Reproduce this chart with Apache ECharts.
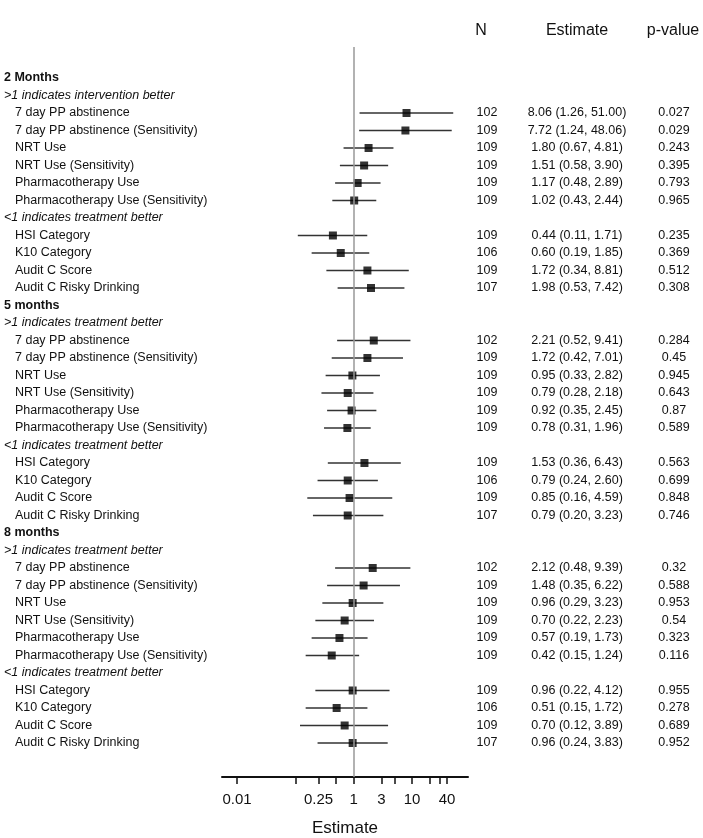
<!DOCTYPE html>
<html>
<head>
<meta charset="utf-8">
<script src="https://cdn.jsdelivr.net/npm/echarts@6/dist/echarts.min.js"></script>
<style>
html,body{margin:0;padding:0;background:#fff;}
#chart{width:703px;height:838px;}
</style>
</head>
<body>
<div id="chart"></div>
<script>
// ---- data ----
const rowLabels = [
  "2 Months", ">1 indicates intervention better",
  "7 day PP abstinence", "7 day PP abstinence (Sensitivity)", "NRT Use", "NRT Use (Sensitivity)",
  "Pharmacotherapy Use", "Pharmacotherapy Use (Sensitivity)",
  "<1 indicates treatment better",
  "HSI Category", "K10 Category", "Audit C Score", "Audit C Risky Drinking",
  "5 months", ">1 indicates treatment better",
  "7 day PP abstinence", "7 day PP abstinence (Sensitivity)", "NRT Use", "NRT Use (Sensitivity)",
  "Pharmacotherapy Use", "Pharmacotherapy Use (Sensitivity)",
  "<1 indicates treatment better",
  "HSI Category", "K10 Category", "Audit C Score", "Audit C Risky Drinking",
  "8 months", ">1 indicates treatment better",
  "7 day PP abstinence", "7 day PP abstinence (Sensitivity)", "NRT Use", "NRT Use (Sensitivity)",
  "Pharmacotherapy Use", "Pharmacotherapy Use (Sensitivity)",
  "<1 indicates treatment better",
  "HSI Category", "K10 Category", "Audit C Score", "Audit C Risky Drinking"
];
const nValues = [
  null, null, 102, 109, 109, 109, 109, 109, null, 109, 106, 109, 107,
  null, null, 102, 109, 109, 109, 109, 109, null, 109, 106, 109, 107,
  null, null, 102, 109, 109, 109, 109, 109, null, 109, 106, 109, 107
];
const estimates = [
  null, null, 8.06, 7.72, 1.80, 1.51, 1.17, 1.02, null, 0.44, 0.60, 1.72, 1.98,
  null, null, 2.21, 1.72, 0.95, 0.79, 0.92, 0.78, null, 1.53, 0.79, 0.85, 0.79,
  null, null, 2.12, 1.48, 0.96, 0.70, 0.57, 0.42, null, 0.96, 0.51, 0.70, 0.96
];
const lowerCI = [
  null, null, 1.26, 1.24, 0.67, 0.58, 0.48, 0.43, null, 0.11, 0.19, 0.34, 0.53,
  null, null, 0.52, 0.42, 0.33, 0.28, 0.35, 0.31, null, 0.36, 0.24, 0.16, 0.20,
  null, null, 0.48, 0.35, 0.29, 0.22, 0.19, 0.15, null, 0.22, 0.15, 0.12, 0.24
];
const upperCI = [
  null, null, 51.00, 48.06, 4.81, 3.90, 2.89, 2.44, null, 1.71, 1.85, 8.81, 7.42,
  null, null, 9.41, 7.01, 2.82, 2.18, 2.45, 1.96, null, 6.43, 2.60, 4.59, 3.23,
  null, null, 9.39, 6.22, 3.23, 2.23, 1.73, 1.24, null, 4.12, 1.72, 3.89, 3.83
];
const pValues = [
  null, null, "0.027", "0.029", "0.243", "0.395", "0.793", "0.965", null, "0.235", "0.369", "0.512", "0.308",
  null, null, "0.284", "0.45", "0.945", "0.643", "0.87", "0.589", null, "0.563", "0.699", "0.848", "0.746",
  null, null, "0.32", "0.588", "0.953", "0.54", "0.323", "0.116", null, "0.955", "0.278", "0.689", "0.952"
];
const tickValues = [0.01, 0.1, 0.25, 0.5, 1, 3, 5, 10, 20, 30, 40];
const tickLabels = [0.01, 0.25, 1, 3, 10, 40];
const columnHeaders = ["N", "Estimate", "p-value"];
const axisTitle = "Estimate";
const refValue = 1;

// ---- build ----
const L = Math.log10;
const rowIdx = rowLabels.map((_, i) => i);
const isHeading = s => /months?$/i.test(s);
const isSub = s => /^[<>]/.test(s);

const pointData = [], ciData = [];
rowIdx.forEach(i => {
  if (estimates[i] != null) {
    pointData.push([L(estimates[i]), i]);
    ciData.push([L(lowerCI[i]), L(upperCI[i]), i]);
  }
});

const FONT = "'Liberation Sans', Arial, sans-serif";
const yMin = -1.771, yMax = 39.943;
const baseY = {
  type: 'value', inverse: true, min: yMin, max: yMax,
  axisLine: {show: false}, axisTick: {show: false}, splitLine: {show: false}
};
function rightAxis(fn, margin) {
  return Object.assign({}, baseY, {
    position: 'right',
    axisLabel: {
      customValues: rowIdx, margin: margin, align: 'center',
      fontFamily: FONT, fontSize: 12.5, color: '#111',
      formatter: v => { const i = Math.round(v); const t = fn(i); return t == null ? '' : t; }
    }
  });
}
function header(text, x) {
  return {type: 'text', x: x, y: 31, style: {text: text, fontFamily: FONT, fontSize: 16, fill: '#111', textAlign: 'center', textVerticalAlign: 'middle'}};
}

const option = {
  animation: false,
  backgroundColor: '#fff',
  grid: {left: 222, right: 235, top: 47, bottom: 61, containLabel: false, outerBoundsMode: 'none'},
  xAxis: {
    type: 'value', min: -2.259, max: 1.961,
    name: axisTitle, nameLocation: 'middle', nameGap: 43,
    nameTextStyle: {fontFamily: FONT, fontSize: 17, color: '#111'},
    axisLine: {show: true, onZero: false, lineStyle: {color: '#111', width: 2}},
    axisTick: {show: true, customValues: tickValues.map(L), length: 7, lineStyle: {color: '#111', width: 1.5}},
    axisLabel: {
      customValues: tickLabels.map(L), margin: 15,
      fontFamily: FONT, fontSize: 15, color: '#111',
      formatter: v => {
        let best = tickLabels[0];
        tickLabels.forEach(t => { if (Math.abs(L(t) - v) < Math.abs(L(best) - v)) best = t; });
        return String(best);
      }
    },
    splitLine: {show: false}
  },
  yAxis: [
    Object.assign({}, baseY, {
      position: 'left',
      axisLabel: {
        customValues: rowIdx, margin: 218, align: 'left',
        fontFamily: FONT, fontSize: 12.5, color: '#111',
        formatter: v => {
          const s = rowLabels[Math.round(v)];
          if (s == null) return '';
          if (isHeading(s)) return '{h|' + s + '}';
          if (isSub(s)) return '{s|' + s + '}';
          return '{n|' + s + '}';
        },
        rich: {
          h: {fontFamily: FONT, fontSize: 12.5, fontWeight: 'bold', color: '#111'},
          s: {fontFamily: FONT, fontSize: 12.5, fontStyle: 'italic', color: '#111'},
          n: {fontFamily: FONT, fontSize: 12.5, color: '#111', padding: [0, 0, 0, 11]}
        }
      }
    }),
    rightAxis(i => nValues[i] == null ? null : String(nValues[i]), 19),
    rightAxis(i => estimates[i] == null ? null :
      estimates[i].toFixed(2) + ' (' + lowerCI[i].toFixed(2) + ', ' + upperCI[i].toFixed(2) + ')', 109),
    rightAxis(i => pValues[i], 206)
  ],
  graphic: [
    header(columnHeaders[0], 481),
    header(columnHeaders[1], 577),
    header(columnHeaders[2], 673)
  ],
  series: [
    {
      type: 'custom', yAxisIndex: 0, z: 2,
      data: ciData,
      encode: {x: [0, 1], y: 2},
      renderItem: (params, api) => {
        const a = api.coord([api.value(0), api.value(2)]);
        const b = api.coord([api.value(1), api.value(2)]);
        return {type: 'line', shape: {x1: a[0], y1: a[1], x2: b[0], y2: b[1]},
          style: {stroke: '#333', lineWidth: 1.5}};
      }
    },
    {
      type: 'scatter', yAxisIndex: 0, z: 3,
      data: pointData, symbol: 'rect', symbolSize: 8,
      itemStyle: {color: '#000'}
    },
    {
      type: 'line', yAxisIndex: 0, z: 5, data: [],
      markLine: {
        silent: true, symbol: 'none', z: 10,
        label: {show: false},
        lineStyle: {color: '#999', width: 1.5, type: 'solid'},
        data: [{xAxis: L(refValue)}]
      }
    }
  ]
};
const chart = echarts.init(document.getElementById('chart'), null, {renderer: 'canvas'});
chart.setOption(option);
</script>
</body>
</html>
